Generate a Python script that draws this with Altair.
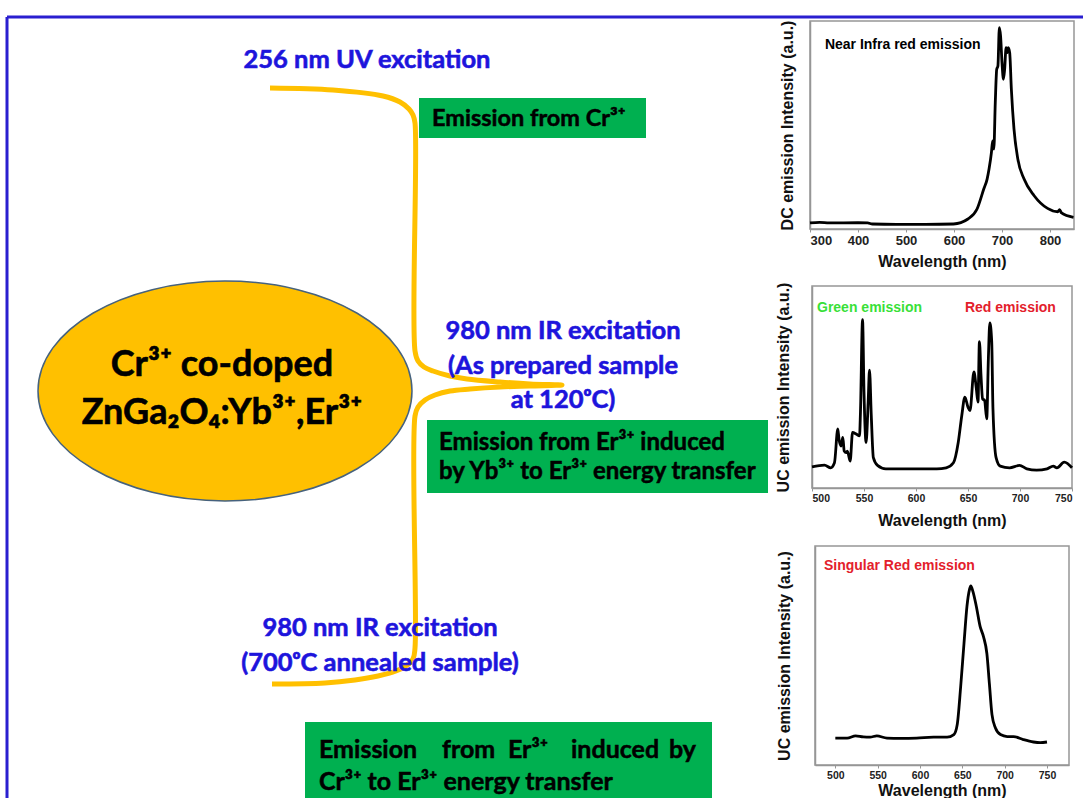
import altair as alt
import pandas as pd

# ---------------- spectra ----------------
nir_wl = [300, 320, 340, 400, 420, 430, 480, 540, 599, 629, 648, 662, 669, 673, 678, 680.5, 683, 686, 689, 691.5,
          694.5, 697, 700, 703, 705.5, 708.5, 711, 713, 716, 719.5, 725, 733, 746, 767, 795, 816, 820, 824, 849]
nir_int = [2.9, 3.2, 2.9, 3.0, 2.9, 2.4, 2.2, 2.2, 2.4, 4.8, 9.6, 19.2, 24, 28.8, 36.8, 42.4, 38.4, 60.8, 76.8, 78.4,
           96.8, 92.8, 80, 72, 76.8, 87.2, 84.8, 87.2, 84.8, 67.2, 48, 33.6, 24, 16, 9.9, 8.3, 9.3, 7.7, 5.6]

uc_as_wl = [500, 512, 518, 521.6, 524.8, 526, 528, 529.6, 531, 532.8, 534, 536.7, 539, 542.5, 545.7, 546.6, 548.6,
            550, 552, 554, 555.3, 557, 559, 563, 571, 587.5, 620, 629, 636, 640.6, 644, 647, 650, 651.9, 655.7, 658,
            659.6, 661, 662.5, 664, 666, 668, 669.6, 671, 672.8, 674, 677, 681, 690, 699.5, 706.6, 716, 726, 732,
            735.5, 742.6, 750]
uc_as_int = [10.5, 11.3, 10, 12.5, 29.2, 24, 20.8, 25, 18.3, 17.5, 18.3, 13.3, 27.5, 26.7, 25.8, 37.5, 83.3, 47.5,
             22.5, 42.5, 58.3, 35.8, 15, 11.2, 9.5, 9.5, 9.5, 10, 12.5, 22.5, 35.8, 45, 40, 38.3, 57.5, 49.2, 42.5,
             72.5, 55.8, 44.2, 43.3, 34.2, 64.2, 81.7, 72.5, 39.2, 15, 10.8, 10, 11.2, 9.5, 8.8, 9.5, 10.8, 10, 12.8,
             10]

uc_700_wl = [500, 514, 524, 533, 541, 549, 561, 577, 596, 616, 632, 640, 644, 648, 652, 655.5, 658.5, 660, 662.5,
             666.5, 671, 675, 679, 682, 685, 689, 695, 703, 710.5, 722, 734, 742, 750]
uc_700_int = [12.3, 12.3, 13.3, 12.8, 12.7, 13.3, 12.3, 12.2, 12.3, 12.7, 12.7, 13.9, 18.5, 35.5, 55.6, 72.5, 80.2,
              81.8, 79.3, 72.5, 63.3, 58.6, 50.9, 37, 23.1, 17, 13.9, 13, 13, 11.6, 10.5, 10.2, 10.5]

# tick positions (major ones are labelled, the in-between ones are minor)
nir_ticks = [300, 350, 400, 450, 500, 550, 600, 650, 700, 750, 800, 850]
uc_ticks = [500, 525, 550, 575, 600, 625, 650, 675, 700, 725, 750]
uc3_ticks = [475, 500, 525, 550, 575, 600, 625, 650, 675, 700, 725, 750, 775]

# ---------------- diagram texts ----------------
center_texts = ["256 nm UV excitation", "Cr³⁺ co-doped", "ZnGa₂O₄:Yb³⁺,Er³⁺",
                "980 nm IR excitation", "(As prepared sample", "at 120ᵒC)",
                "980 nm IR excitation", "(700ᵒC annealed sample)"]
left_texts = ["Emission from Cr³⁺", "Emission from Er³⁺ induced", "by Yb³⁺ to Er³⁺ energy transfer",
              "Emission", "from", "Er³⁺", "induced", "by", "Cr³⁺ to Er³⁺ energy transfer"]

# ---------------- layout (pixel positions of the diagram) ----------------
W1, H = 780, 798
BLUE = "#1d14dc"
GOLD = "#FFC000"
GREEN = "#00b050"

center_x = [367, 222, 222, 563, 563, 563, 380, 380]
center_y = [57, 362, 410, 328, 363, 397, 625, 660]
center_size = [25.5, 36, 36, 25.5, 25.5, 25.5, 25.5, 25.5]
center_color = [BLUE, "black", "black", BLUE, BLUE, BLUE, BLUE, BLUE]

left_x = [432, 439, 439, 319, 442, 508, 571, 669, 319]
left_y = [116, 440, 469, 747, 747, 747, 747, 747, 779]
left_size = [23.5, 24, 24, 25, 25, 25, 25, 25, 25]

box_x = [419, 427, 305]
box_x2 = [646, 768, 712]
box_y = [95, 417, 719]
box_y2 = [135, 490, 798]

curve_x = [270, 333, 383, 400, 409, 413, 415, 415, 418, 424, 433, 450, 467, 500, 530, 562,
           530, 500, 470, 450, 435, 425, 418, 415, 415, 413, 406, 396, 378, 355, 325, 272]
curve_y = [85, 87, 93, 99, 106, 112, 120, 348, 358, 364, 368, 373, 376, 379, 381, 382,
           383, 384, 386, 388, 392, 397, 404, 413, 645, 656, 663, 668, 673, 677, 680, 681]

border_x = [7, 7]
border_x2 = [1083, 7]
border_y = [14, 14]
border_y2 = [14, 798]

ellipse_cx, ellipse_cy, ellipse_rx = [225], [388], 187
ELLIPSE_PATH = ("M -1 0 C -1 -0.325 -0.552 -0.588 0 -0.588 C 0.552 -0.588 1 -0.325 1 0 "
                "C 1 0.325 0.552 0.588 0 0.588 C -0.552 0.588 -1 0.325 -1 0 Z")

xs = alt.Scale(domain=[0, W1], nice=False, zero=False)
ys = alt.Scale(domain=[H, 0], nice=False, zero=False)

def X(f):
    return alt.X(f, type="quantitative", scale=xs, axis=None)

def Y(f):
    return alt.Y(f, type="quantitative", scale=ys, axis=None)

boxes = alt.Chart(pd.DataFrame({"x": box_x, "x2": box_x2, "y": box_y, "y2": box_y2})).mark_rect(
    color=GREEN).encode(x=X("x"), x2="x2", y=Y("y"), y2="y2")

curve = alt.Chart(pd.DataFrame({"x": curve_x, "y": curve_y, "i": list(range(len(curve_x)))})).mark_line(
    color=GOLD, strokeWidth=5, strokeJoin="miter", interpolate="catmull-rom").encode(
    x=X("x"), y=Y("y"), order="i:Q")

ellipse = alt.Chart(pd.DataFrame({"x": ellipse_cx, "y": ellipse_cy})).mark_point(
    shape=ELLIPSE_PATH, size=(2 * ellipse_rx) ** 2, filled=True, fill=GOLD, stroke="#46627e",
    strokeWidth=1.5, opacity=1).encode(x=X("x"), y=Y("y"))

border = alt.Chart(pd.DataFrame({"x": border_x, "x2": border_x2, "y": border_y, "y2": border_y2})).mark_rule(
    color="#2a1fd0", strokeWidth=3).encode(x=X("x"), x2="x2", y=Y("y"), y2="y2")

ctext = alt.Chart(pd.DataFrame({"x": center_x, "y": center_y, "t": center_texts, "s": center_size,
                                "c": center_color})).mark_text(
    font="Lato", fontWeight="bold", align="center", baseline="middle", strokeWidth=0.6).encode(
    x=X("x"), y=Y("y"), text="t:N", size=alt.Size("s:Q", scale=None),
    color=alt.Color("c:N", scale=None), stroke=alt.Stroke("c:N", scale=None))

ltext = alt.Chart(pd.DataFrame({"x": left_x, "y": left_y, "t": left_texts, "s": left_size})).mark_text(
    font="Lato", fontWeight="bold", align="left", baseline="middle", color="black",
    stroke="black", strokeWidth=0.5).encode(
    x=X("x"), y=Y("y"), text="t:N", size=alt.Size("s:Q", scale=None))

diagram = alt.layer(boxes, curve, ellipse, border, ctext, ltext).properties(width=W1, height=H)

# ---------------- spectra panels ----------------
FRAME = alt.ViewBackground(stroke="#969696", strokeWidth=1.5)

def panel(wl, inten, domain, ticks, step, ytitle, notes, w, h, ypad, xpad, lsize):
    line = alt.Chart(pd.DataFrame({"wl": wl, "I": inten})).mark_line(
        color="black", strokeWidth=2.8, interpolate="monotone").encode(
        x=alt.X("wl:Q", scale=alt.Scale(domain=domain, nice=False, zero=False),
                axis=alt.Axis(values=ticks, title="Wavelength (nm)", grid=False, titlePadding=xpad,
                              labelFontSize=lsize,
                              labelExpr=f"datum.value % {step} == 0 ? datum.label : ''")),
        y=alt.Y("I:Q", scale=alt.Scale(domain=[0, 100], nice=False),
                axis=alt.Axis(labels=False, ticks=False, grid=False, title=ytitle, titlePadding=ypad)))
    txt = alt.Chart(pd.DataFrame(notes)).mark_text(
        font="Liberation Sans", fontWeight="bold", align="left", baseline="middle", fontSize=14).encode(
        x=alt.X("wl:Q"), y=alt.Y("I:Q"), text="t:N", color=alt.Color("c:N", scale=None))
    return alt.layer(line, txt).properties(width=w, height=h, view=FRAME)

p1 = panel(nir_wl, nir_int, [300, 850], nir_ticks, 100, "DC emission Intensity (a.u.)",
           {"wl": [331], "I": [88.5], "t": ["Near Infra red emission"], "c": ["black"]},
           264, 208, 15, 6, 13)
p2 = panel(uc_as_wl, uc_as_int, [500, 750], uc_ticks, 50, "UC emission Intensity (a.u.)",
           {"wl": [504.8, 647], "I": [89, 89], "t": ["Green emission", "Red emission"],
            "c": ["#38e038", "#e3202b"]}, 260, 202, 21, 9, 10.5)
p3 = panel(uc_700_wl, uc_700_int, [476, 776], uc3_ticks, 50, "UC emission Intensity (a.u.)",
           {"wl": [486.6], "I": [91], "t": ["Singular Red emission"], "c": ["#e3202b"]},
           254, 219, 23, 2, 10.5)

spacer_df = pd.DataFrame({"a": [0]})
def spacer(h):
    return alt.Chart(spacer_df).mark_point(opacity=0).encode(
        x=alt.X("a:Q", axis=None), y=alt.Y("a:Q", axis=None)).properties(width=1, height=h)

col = alt.vconcat(spacer(1), p1, spacer(23), p2, spacer(24), p3, spacing=17, bounds="flush", center=True)

chart = alt.hconcat(diagram, col, spacing=30, bounds="flush").properties(
    padding=0, background="white"
).configure_view(stroke=None).configure_axis(
    labelFont="Liberation Sans", labelFontWeight="bold", labelColor="#222",
    titleFont="Liberation Sans", titleFontWeight="bold", titleFontSize=16, titleColor="#111",
    domainColor="#969696", domainWidth=1.5, tickColor="#969696", tickSize=3, labelPadding=2
)

chart.save("out.html", embed_options={"renderer": "svg", "actions": False})
